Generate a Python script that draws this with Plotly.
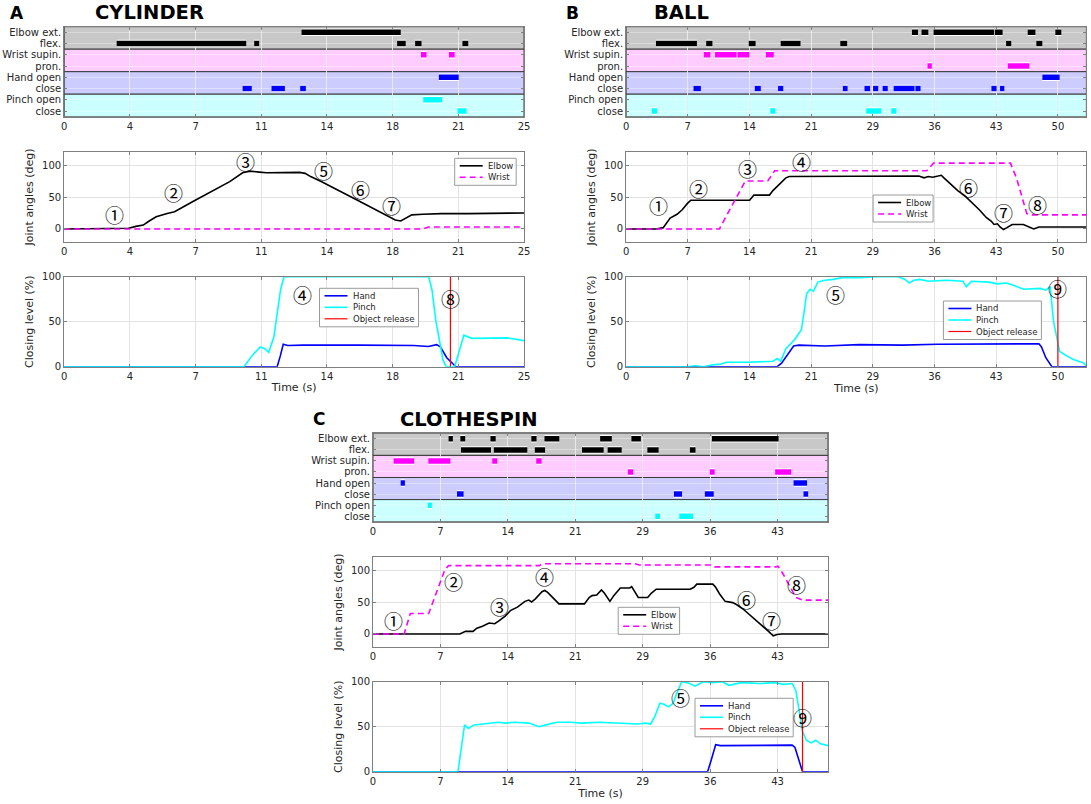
import plotly.graph_objects as go

W, H = 1091, 804

# ---------------- raster rows ----------------
row_labels = ["Elbow ext.", "flex.", "Wrist supin.", "pron.", "Hand open", "close", "Pinch open", "close"]
row_colors = ["#000000", "#000000", "#ff00ff", "#ff00ff", "#0000ff", "#0000ff", "#00ffff", "#00ffff"]
band_colors = ["#c8c8c8", "#ffccff", "#ccccff", "#ccffff"]

# ---------------- axis ticks ----------------
A_ticks = [0, 3.571, 7.143, 10.714, 14.286, 17.857, 21.429, 25.0]
A_ticklabels = ["0", "4", "7", "11", "14", "18", "21", "25"]
B_ticks = [0, 7.143, 14.286, 21.429, 28.571, 35.714, 42.857, 50.0]
B_ticklabels = ["0", "7", "14", "21", "29", "36", "43", "50"]
C_ticks = [0, 7.143, 14.286, 21.429, 28.571, 35.714, 42.857]
C_ticklabels = ["0", "7", "14", "21", "29", "36", "43"]

# ---------------- events (start, end) in s ----------------
A_events = [
    [(12.9, 18.3)],
    [(2.85, 9.9), (10.33, 10.6), (18.1, 18.57), (19.08, 19.43), (21.65, 21.97)],
    [(19.4, 19.7), (20.92, 21.23)],
    [],
    [(20.37, 21.45)],
    [(9.7, 10.2), (11.27, 12.0), (12.83, 13.14)],
    [(19.52, 20.55)],
    [(21.38, 21.88)],
]
B_events = [
    [(33.1, 33.8), (34.2, 35.0), (35.6, 42.6), (42.7, 43.6), (46.5, 47.4), (49.7, 50.4)],
    [(3.46, 8.2), (9.27, 10.0), (14.2, 15.0), (17.9, 20.2), (24.8, 25.6), (44.0, 44.6), (47.5, 48.2)],
    [(9.0, 9.76), (10.3, 12.8), (12.9, 14.27), (16.2, 17.1)],
    [(34.9, 35.4), (44.2, 46.7)],
    [(48.2, 50.2)],
    [(7.8, 8.66), (14.9, 15.6), (17.6, 18.2), (25.1, 25.65), (27.6, 28.25), (28.6, 29.2),
     (29.7, 30.3), (30.98, 33.4), (33.5, 34.1), (42.3, 42.9), (43.3, 43.8)],
    [],
    [(2.97, 3.58), (16.7, 17.3), (27.8, 29.55), (30.7, 31.3)],
]
C_events = [
    [(8.0, 8.46), (9.25, 9.77), (12.44, 13.0), (16.77, 17.33), (18.16, 19.74), (24.06, 25.3),
     (27.37, 28.38), (35.9, 42.97)],
    [(9.32, 12.5), (12.8, 16.35), (17.14, 18.23), (22.14, 24.44), (24.85, 26.35), (29.06, 30.26),
     (33.57, 34.17)],
    [(2.18, 4.36), (5.86, 8.2), (12.63, 13.16), (17.29, 17.86)],
    [(27.0, 27.56), (35.7, 36.2), (42.6, 44.3)],
    [(2.93, 3.38), (44.55, 45.98)],
    [(8.9, 9.6), (31.88, 32.74), (35.15, 36.1), (45.6, 46.1)],
    [(5.79, 6.24)],
    [(29.9, 30.4), (32.44, 33.9)],
]

# ---------------- joint angles ----------------
A_elbow_t = [0, 3.0, 3.5, 3.9, 4.3, 4.6, 5.0, 5.6, 6.0, 7.0, 8.0, 9.0, 9.7, 10.1, 10.6, 11.0, 12.8,
             13.1, 13.4, 14.0, 16.0, 17.5, 18.0, 18.3, 18.6, 18.9, 19.5, 20.5, 22.0, 25.0]
A_elbow_v = [0, 0, 1, 4, 6, 12, 19, 24, 27, 43, 58.5, 74, 88, 90.5, 89, 88, 88.5,
             87, 82, 74, 44, 22, 14, 12.5, 17, 22, 23, 24, 24, 25]
A_wrist_t = [0, 19.5, 19.8, 25.0]
A_wrist_v = [0, 0, 3, 3]

B_elbow_t = [0, 3.5, 4.3, 4.7, 5.1, 5.9, 6.5, 7.1, 7.5, 14.0, 14.3, 14.8, 16.6, 17.0, 17.7, 18.5, 18.9,
             25.0, 26.0, 33.9, 34.5, 35.0, 35.5, 36.5, 36.8, 37.6, 38.4, 39.2, 40.0, 40.9, 41.7,
             42.3, 42.6, 43.0, 43.3, 43.7, 44.1, 44.7, 46.0, 46.7, 47.2, 47.8, 53.3]
B_elbow_v = [0, 0, 2, 10, 17, 23, 30, 40, 45, 45, 45, 53, 53, 60, 70, 80, 82,
             82, 83, 83, 80, 82, 81, 84, 80, 70, 60, 52, 42, 30, 18,
             12, 7, 8, 3, -1, 2, 7, 7, 3, 0, 3, 3]
B_wrist_t = [0, 10.8, 13.8, 16.4, 17.2, 34.8, 35.6, 44.5, 45.2, 46.0, 46.4, 47.0, 53.3]
B_wrist_v = [0, 0, 75, 75, 91, 91, 103, 103, 80, 40, 24, 22, 22]

C_elbow_t = [0, 9.2, 9.8, 10.6, 11.0, 11.6, 12.3, 12.9, 13.3, 14.0, 14.6, 15.3, 16.1, 16.5, 16.8,
             17.2, 17.9, 18.2, 18.5, 19.3, 19.7, 22.4, 22.9, 23.2, 23.7, 24.2, 24.5, 25.1, 25.5,
             26.2, 27.2, 27.4, 27.7, 28.1, 29.1, 29.5, 30.0, 33.6, 34.0, 34.3, 36.0, 36.3, 36.7,
             37.3, 38.1, 38.5, 39.2, 40.0, 40.9, 41.5, 41.9, 42.4, 42.8, 43.3, 48.2]
C_elbow_v = [0, 0, 4, 4, 9, 12, 17, 16, 20, 28, 37, 42, 51, 53, 50,
             55, 66, 68, 65, 54, 47, 47, 57, 60, 61, 69, 64, 51, 60,
             72, 72, 74, 66, 57, 57, 64, 70, 70, 73, 78, 78, 73, 63,
             51, 49, 46, 39, 29, 18, 10, 4, -3, -1, 0, 0]
C_wrist_t = [0, 3.3, 3.95, 5.9, 7.6, 8.0, 17.6, 18.0, 27.7, 28.2, 35.8, 36.2, 42.7, 42.9, 43.4,
             44.2, 44.8, 45.5, 48.2]
C_wrist_v = [0, 0, 32, 32, 100, 107, 107, 110, 110, 108, 108, 105, 105, 106, 95,
             72, 57, 53, 53]

# ---------------- closing levels ----------------
A_pinch_t = [0, 9.78, 10.2, 10.66, 10.9, 11.12, 11.4, 11.76, 11.95, 19.82, 20.0, 20.2, 20.6, 20.77,
             21.23, 21.5, 21.73, 22.15, 23.2, 24.1, 25.0]
A_pinch_v = [0, 0, 12, 22, 20, 16, 33, 85, 100, 100, 85, 52, 7, 0,
             0, 20, 35, 31.5, 32, 32, 29]
A_hand_t = [0, 11.58, 11.75, 11.91, 12.15, 13.0, 16.0, 19.0, 19.8, 20.25, 20.45, 20.8, 21.3, 25.0]
A_hand_v = [0, 0, 12, 25, 23.5, 24, 24, 23.5, 22.5, 24.5, 22, 10, 0, 0]
A_release = 21.0

B_pinch_t = [0, 7.0, 8.0, 9.0, 10.0, 11.0, 11.6, 14.0, 17.0, 17.5, 17.9, 18.5, 19.5, 20.3, 20.6,
             20.9, 21.3, 21.7, 22.2, 23.0, 24.0, 25.0, 27.0, 29.0, 31.5, 32.3, 32.8, 33.3, 34.0,
             35.0, 37.0, 39.0, 39.4, 40.0, 42.0, 43.0, 44.0, 45.0, 46.0, 48.0, 48.6, 49.1, 49.5,
             50.2, 51.0, 51.8, 53.0, 53.3]
B_pinch_v = [0, 0, 1, 0, 2, 3, 5, 5, 6, 9, 6, 20, 30, 41, 60,
             81, 86, 84, 94, 96, 97, 99, 99, 100, 100, 97, 93, 96, 97,
             95, 96, 95, 89, 95, 94, 92, 93, 90, 86, 87, 85, 89, 50,
             17, 12, 8, 4, 1]
B_hand_t = [0, 17.5, 18.0, 18.8, 19.4, 20.0, 23.0, 27.0, 32.0, 36.0, 40.0, 44.0, 47.8, 48.1, 48.6,
            49.3, 53.3]
B_hand_v = [0, 0, 4, 15, 23, 24, 23, 24.5, 24, 25, 25, 25.5, 25.5, 22, 10, 0, 0]
B_release = 50.0

C_pinch_t = [0, 9.0, 9.7, 10.1, 10.7, 11.5, 13.3, 14.0, 15.0, 16.5, 17.6, 18.3, 19.5, 21.0, 22.0,
             24.0, 26.0, 28.0, 28.9, 29.4, 29.8, 30.4, 30.8, 31.3, 31.8, 32.1, 32.7, 33.3, 34.1,
             35.0, 36.0, 37.0, 37.7, 39.0, 41.0, 42.5, 43.5, 44.4, 44.8, 45.2, 45.5, 45.9, 46.4,
             46.9, 47.4, 48.2]
C_pinch_v = [0, 0, 52, 48, 52, 53, 55, 54, 55, 54, 50, 52, 55, 55, 54,
             55, 54, 53, 54, 53, 60, 76, 75, 72, 76, 85, 100, 99, 95,
             100, 99, 100, 96, 99, 98, 99, 97, 98, 90, 65, 45, 35, 32,
             35, 31, 29]
C_hand_t = [0, 35.45, 35.8, 36.3, 36.8, 40.0, 44.4, 44.7, 45.1, 45.5, 48.2]
C_hand_v = [0, 0, 12, 30, 29, 29.5, 29.5, 27, 12, 0, 0]
C_release = 45.5

# ---------------- circled step labels ----------------
A_joint_marks = ["①", "②", "③", "⑤", "⑥", "⑦"]
A_joint_marks_t = [2.72, 5.94, 9.87, 14.1, 16.1, 17.8]
A_joint_marks_v = [22, 57, 105, 92, 61, 36]
A_close_marks = ["④", "⑧"]
A_close_marks_t = [12.96, 21.0]
A_close_marks_v = [80, 76]

B_joint_marks = ["①", "②", "③", "④", "⑥", "⑦", "⑧"]
B_joint_marks_t = [3.78, 8.33, 14.0, 20.3, 39.6, 43.7, 47.6]
B_joint_marks_v = [36, 63.5, 95, 106, 64.6, 26, 37.5]
B_close_marks = ["⑤", "⑨"]
B_close_marks_t = [24.2, 49.9]
B_close_marks_v = [80.4, 87]

C_joint_marks = ["①", "②", "③", "④", "⑥", "⑦", "⑧"]
C_joint_marks_t = [2.18, 8.5, 13.4, 18.2, 39.6, 42.2, 44.9]
C_joint_marks_v = [21, 81.7, 43.5, 89.5, 54, 21, 77]
C_close_marks = ["⑤", "⑨"]
C_close_marks_t = [32.6, 45.5]
C_close_marks_v = [82, 60]

# legend entries
joint_names = ["Elbow", "Wrist"]
close_names = ["Hand", "Pinch", "Object release"]

# ================= layout geometry (pixels) =================
FONT = "DejaVu Sans"
TXT = "#262626"
BOX = "#7f7f7f"
GRID = "#e3e3e3"
ELBOW_STYLE = dict(color="black", width=1.6)
WRIST_STYLE = dict(color="#ff00ff", width=1.6, dash="6px,4px")
HAND_STYLE = dict(color="#0000ff", width=1.6)
PINCH_STYLE = dict(color="#00ffff", width=1.6)
REL_STYLE = dict(color="#ff0000", width=1.2)

def px_x(a, b):
    return [a / W, b / W]

def px_y(top, bottom):
    return [1 - bottom / H, 1 - top / H]

panels = [
    dict(name="A", title="CYLINDER", xdom=px_x(64.2, 524.0), xr=[0, 25],
         ydoms=[px_y(26.7, 116.7), px_y(152.3, 241.7), px_y(276.7, 366.7)],
         ticks=A_ticks, tl=A_ticklabels, events=A_events,
         elbow=(A_elbow_t, A_elbow_v), wrist=(A_wrist_t, A_wrist_v),
         hand=(A_hand_t, A_hand_v), pinch=(A_pinch_t, A_pinch_v), rel=A_release,
         jm=(A_joint_marks, A_joint_marks_t, A_joint_marks_v),
         cm=(A_close_marks, A_close_marks_t, A_close_marks_v),
         leg_j=(454.7, 158.3, 61.5), leg_c=(319.5, 288.3, 99.0),
         lab=(17, 13), tit=(149.6, 13)),
    dict(name="B", title="BALL", xdom=px_x(626.1, 1086.4), xr=[0, 53.3],
         ydoms=[px_y(26.7, 116.7), px_y(152.3, 241.7), px_y(276.7, 366.7)],
         ticks=B_ticks, tl=B_ticklabels, events=B_events,
         elbow=(B_elbow_t, B_elbow_v), wrist=(B_wrist_t, B_wrist_v),
         hand=(B_hand_t, B_hand_v), pinch=(B_pinch_t, B_pinch_v), rel=B_release,
         jm=(B_joint_marks, B_joint_marks_t, B_joint_marks_v),
         cm=(B_close_marks, B_close_marks_t, B_close_marks_v),
         leg_j=(873.1, 195.0, 60.0), leg_c=(943.4, 301.0, 98.0),
         lab=(572, 13), tit=(681, 13)),
    dict(name="C", title="CLOTHESPIN", xdom=px_x(373.0, 828.0), xr=[0, 48.2],
         ydoms=[px_y(433.3, 521.7), px_y(557.3, 646.7), px_y(681.7, 771.7)],
         ticks=C_ticks, tl=C_ticklabels, events=C_events,
         elbow=(C_elbow_t, C_elbow_v), wrist=(C_wrist_t, C_wrist_v),
         hand=(C_hand_t, C_hand_v), pinch=(C_pinch_t, C_pinch_v), rel=C_release,
         jm=(C_joint_marks, C_joint_marks_t, C_joint_marks_v),
         cm=(C_close_marks, C_close_marks_t, C_close_marks_v),
         leg_j=(618.2, 607.3, 61.4), leg_c=(695.0, 698.3, 98.2),
         lab=(318.6, 419), tit=(468, 419)),
]

fig = go.Figure()
layout = dict(width=W, height=H, autosize=False, margin=dict(l=0, r=0, t=0, b=0, autoexpand=False),
              paper_bgcolor="white", plot_bgcolor="white", showlegend=False,
              font=dict(family=FONT, size=10, color=TXT))
shapes = []
annotations = []

def ax_common():
    return dict(showline=True, linecolor=BOX, linewidth=1, mirror="ticks", automargin=False,
                ticks="inside", ticklen=3, tickcolor=BOX, showgrid=True, gridcolor=GRID,
                zeroline=False, tickfont=dict(family=FONT, size=10, color=TXT))

def axname(letter, n):
    return letter if n == 1 else f"{letter}{n}"

def add_legend(x0, y0, w, names, styles):
    step = 11.5
    h = 4 + step * len(names)
    shapes.append(dict(type="rect", xref="paper", yref="paper", x0=x0 / W, x1=(x0 + w) / W,
                       y0=1 - (y0 + h) / H, y1=1 - y0 / H, fillcolor="white",
                       line=dict(color="#9a9a9a", width=1), layer="above"))
    for i, (nm, st) in enumerate(zip(names, styles)):
        yy = y0 + 7.5 + i * step
        shapes.append(dict(type="line", xref="paper", yref="paper", x0=(x0 + 5) / W,
                           x1=(x0 + 28) / W, y0=1 - yy / H, y1=1 - yy / H,
                           line=dict(color=st["color"], width=st["width"],
                                     dash=st.get("dash", "solid")), layer="above"))
        annotations.append(dict(text=nm, x=(x0 + 31) / W, y=1 - yy / H, xref="paper",
                                yref="paper", xanchor="left", yanchor="middle", showarrow=False,
                                font=dict(family=FONT, size=8.5, color=TXT)))

for p_i, P in enumerate(panels):
    base = p_i * 3
    xa = [axname("x", base + k + 1) for k in range(3)]
    ya = [axname("y", base + k + 1) for k in range(3)]
    for k in range(3):
        n = base + k + 1
        xd = ax_common()
        xd.update(domain=P["xdom"], range=P["xr"], anchor=ya[k], tickvals=P["ticks"],
                  ticktext=P["tl"])
        yd = ax_common()
        yd.update(domain=P["ydoms"][k], anchor=xa[k])
        if k == 0:
            yd.update(range=[8.5, 0.5], tickvals=list(range(1, 9)), ticktext=row_labels,
                      gridcolor="rgba(255,255,255,0.35)")
            xd.update(gridcolor="rgba(235,235,235,0.9)")
        elif k == 1:
            yd.update(range=[-20, 120], tickvals=[0, 50, 100],
                      title=dict(text="Joint angles (deg)", standoff=6,
                                 font=dict(family=FONT, size=11, color=TXT)))
        else:
            yd.update(range=[0, 100], tickvals=[0, 50, 100],
                      title=dict(text="Closing level (%)", standoff=6,
                                 font=dict(family=FONT, size=11, color=TXT)))
            xd.update(title=dict(text="Time (s)", standoff=2,
                                 font=dict(family=FONT, size=11, color=TXT)))
        layout[axname("xaxis", n)] = xd
        layout[axname("yaxis", n)] = yd

    # raster bands
    for b in range(4):
        shapes.append(dict(type="rect", xref=f"{xa[0]} domain", yref=ya[0], x0=0, x1=1,
                           y0=0.5 + 2 * b, y1=2.5 + 2 * b, fillcolor=band_colors[b],
                           line=dict(color="#3a3a3a", width=1), layer="below"))
    # raster events
    for r in range(8):
        xs, ys = [], []
        for (s, e) in P["events"][r]:
            xs += [s, e, None]
            ys += [r + 1, r + 1, None]
        if not xs:
            continue
        fig.add_trace(go.Scatter(x=xs, y=ys, xaxis=xa[0], yaxis=ya[0], mode="lines",
                                 line=dict(color="white", width=7.5), hoverinfo="skip"))
        fig.add_trace(go.Scatter(x=xs, y=ys, xaxis=xa[0], yaxis=ya[0], mode="lines",
                                 line=dict(color=row_colors[r], width=5.5), hoverinfo="skip"))

    # joint angles
    fig.add_trace(go.Scatter(x=P["elbow"][0], y=P["elbow"][1], xaxis=xa[1], yaxis=ya[1],
                             mode="lines", name=joint_names[0], line=ELBOW_STYLE))
    fig.add_trace(go.Scatter(x=P["wrist"][0], y=P["wrist"][1], xaxis=xa[1], yaxis=ya[1],
                             mode="lines", name=joint_names[1], line=WRIST_STYLE))
    # closing levels
    fig.add_trace(go.Scatter(x=P["hand"][0], y=P["hand"][1], xaxis=xa[2], yaxis=ya[2],
                             mode="lines", name=close_names[0], line=HAND_STYLE))
    fig.add_trace(go.Scatter(x=P["pinch"][0], y=P["pinch"][1], xaxis=xa[2], yaxis=ya[2],
                             mode="lines", name=close_names[1], line=PINCH_STYLE))
    fig.add_trace(go.Scatter(x=[P["rel"], P["rel"]], y=[0, 100], xaxis=xa[2], yaxis=ya[2],
                             mode="lines", name=close_names[2], line=REL_STYLE))

    # legends (drawn as boxes with sample lines and text)
    add_legend(*P["leg_j"], joint_names, [ELBOW_STYLE, WRIST_STYLE])
    add_legend(*P["leg_c"], close_names, [HAND_STYLE, PINCH_STYLE, REL_STYLE])

    # circled step labels
    for (marks, ts, vs), k in ((P["jm"], 1), (P["cm"], 2)):
        for m, t, v in zip(marks, ts, vs):
            annotations.append(dict(text=m, x=t, y=v, xref=xa[k], yref=ya[k], showarrow=False,
                                    xanchor="center", yanchor="middle",
                                    font=dict(family="Noto Sans CJK JP", size=19, color="black")))

    # panel letter and title
    annotations.append(dict(text=f"<b>{P['name']}</b>", x=P["lab"][0] / W, y=1 - P["lab"][1] / H,
                            xref="paper", yref="paper", showarrow=False,
                            xanchor="center", yanchor="middle",
                            font=dict(family=FONT, size=17, color="black")))
    annotations.append(dict(text=f"<b>{P['title']}</b>", x=P["tit"][0] / W, y=1 - P["tit"][1] / H,
                            xref="paper", yref="paper", showarrow=False,
                            xanchor="center", yanchor="middle",
                            font=dict(family=FONT, size=19.5, color="black")))

layout["shapes"] = shapes
layout["annotations"] = annotations
fig.update_layout(**layout)
fig.write_html("out.html", config={"displayModeBar": False},
               post_script="document.body.style.margin='0px';document.body.style.padding='0px';")
